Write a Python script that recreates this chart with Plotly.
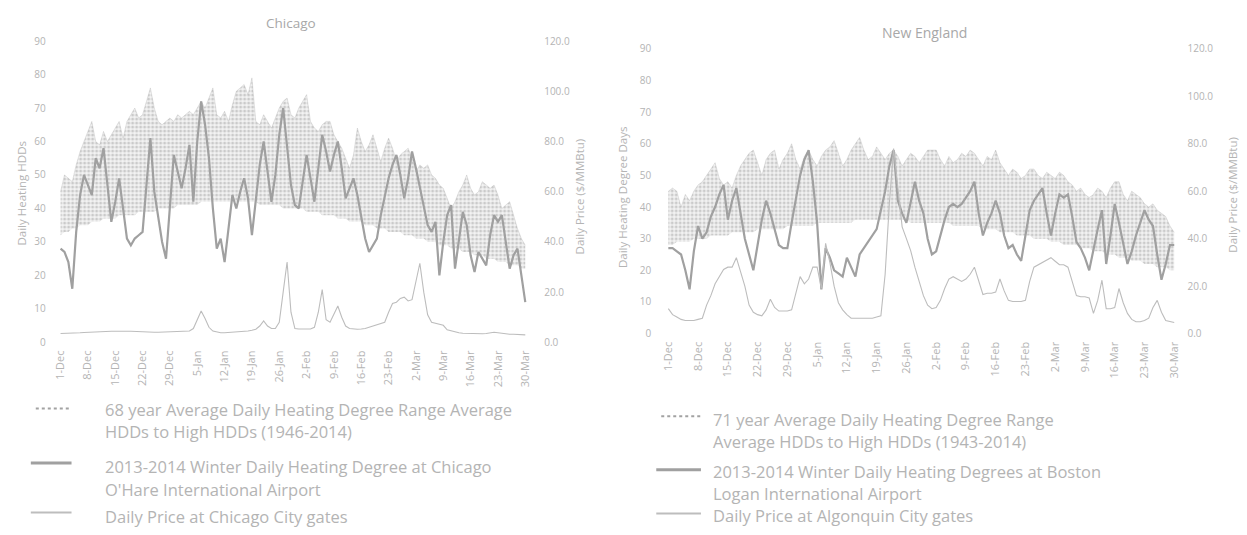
import pandas as pd
import plotly.graph_objects as go

# Winter heating season, one value per day (1 Dec 2013 - 30 Mar 2014)
days = pd.date_range("2013-12-01", "2014-03-30", freq="D")

# ---- Chicago -------------------------------------------------------------
chi_avg_hdd = [32, 33, 33, 34, 34, 35, 35, 35, 36, 36, 36,
               37, 37, 37, 37, 38, 38, 38, 38, 38, 39,
               39, 39, 39, 39, 40, 40, 40, 40, 40, 41,
               41, 41, 41, 41, 41, 42, 42, 42, 42, 42,
               42, 42, 42, 42, 42, 42, 42, 42, 42, 42,
               41, 41, 41, 41, 41, 41, 40, 40, 40, 40,
               40, 40, 39, 39, 39, 39, 38, 38, 38, 38,
               37, 37, 37, 36, 36, 36, 36, 35, 35, 35,
               34, 34, 34, 33, 33, 33, 33, 32, 32, 32,
               31, 31, 31, 30, 30, 30, 29, 29, 29, 28,
               28, 28, 27, 27, 27, 26, 26, 26, 25, 25,
               25, 24, 24, 24, 23, 23, 23, 22, 22]
chi_high_hdd = [45, 50, 49, 48, 53, 57, 60, 63, 66, 60, 59,
                63, 60, 62, 64, 66, 61, 66, 68, 70, 67,
                68, 72, 76, 70, 66, 65, 66, 67, 66, 68,
                67, 68, 69, 68, 70, 72, 70, 73, 76, 68,
                67, 69, 66, 71, 75, 76, 77, 74, 79, 66,
                65, 68, 66, 64, 67, 70, 72, 73, 68, 67,
                70, 72, 74, 66, 64, 63, 65, 66, 66, 62,
                60, 58, 55, 52, 56, 64, 60, 57, 59, 62,
                58, 54, 58, 61, 58, 54, 56, 57, 58, 55,
                51, 53, 52, 53, 50, 49, 47, 46, 43, 40,
                42, 45, 47, 50, 46, 44, 45, 48, 47, 46,
                47, 44, 40, 41, 42, 38, 34, 31, 29]
chi_hdd_2014 = [28, 27, 24, 16, 33, 44, 50, 47, 44, 55, 52,
                58, 46, 36, 42, 49, 40, 31, 29, 31, 32,
                33, 47, 61, 45, 38, 30, 25, 42, 56, 51,
                46, 52, 59, 42, 60, 72, 65, 55, 40, 28,
                31, 24, 35, 44, 40, 45, 49, 43, 32, 42,
                53, 60, 51, 42, 50, 62, 70, 59, 47, 41,
                40, 48, 56, 49, 42, 52, 62, 57, 51, 56,
                60, 52, 43, 46, 49, 44, 37, 31, 27, 29,
                31, 38, 44, 49, 53, 56, 50, 43, 49, 57,
                52, 46, 40, 35, 33, 36, 20, 30, 38, 41,
                22, 30, 39, 35, 26, 21, 27, 25, 23, 32,
                38, 36, 38, 30, 22, 26, 28, 20, 12]
chi_price = [3.5, 3.5, 3.6, 3.7, 3.8, 3.8, 3.9, 4.0, 4.0, 4.1, 4.2,
             4.3, 4.3, 4.4, 4.4, 4.5, 4.5, 4.4, 4.4, 4.3, 4.3,
             4.2, 4.2, 4.1, 4.0, 4.0, 4.1, 4.2, 4.2, 4.3, 4.3,
             4.4, 4.4, 4.5, 5.5, 9.0, 12.5, 9.5, 6.0, 4.5, 4.0,
             3.8, 3.8, 3.9, 4.0, 4.1, 4.2, 4.3, 4.5, 4.8, 5.2,
             6.5, 8.5, 6.5, 5.5, 5.5, 8.0, 20.0, 32.0, 12.0, 5.5,
             5.3, 5.2, 5.2, 5.3, 6.0, 12.0, 21.0, 9.0, 8.0, 11.0,
             14.5, 10.0, 6.5, 5.5, 5.2, 5.2, 5.3, 5.5, 6.0, 6.5,
             7.0, 7.5, 8.0, 12.0, 15.5, 16.0, 17.5, 18.0, 16.5, 17.0,
             24.0, 31.5, 20.0, 11.0, 8.0, 7.5, 7.0, 6.8, 5.0, 4.5,
             4.2, 3.8, 3.6, 3.5, 3.5, 3.4, 3.4, 3.4, 3.5, 3.7,
             4.0, 3.8, 3.5, 3.3, 3.2, 3.2, 3.1, 3.0, 3.0]

# ---- New England ---------------------------------------------------------
ne_avg_hdd = [28, 28, 29, 29, 29, 29, 30, 30, 30, 30, 31,
              31, 31, 31, 31, 32, 32, 32, 32, 32, 32,
              33, 33, 33, 33, 33, 33, 33, 34, 34, 34,
              34, 34, 34, 34, 35, 35, 35, 35, 35, 35,
              35, 35, 35, 36, 36, 36, 36, 36, 36, 36,
              36, 36, 36, 36, 36, 36, 35, 35, 35, 35,
              35, 35, 35, 35, 35, 35, 34, 34, 34, 34,
              34, 34, 34, 33, 33, 33, 33, 32, 32, 32,
              32, 31, 31, 31, 31, 30, 30, 30, 30, 29,
              29, 29, 28, 28, 28, 28, 27, 27, 27, 26,
              26, 26, 25, 25, 25, 24, 24, 24, 23, 23,
              23, 22, 22, 22, 21, 21, 21, 20, 20]
ne_high_hdd = [45, 46, 45, 40, 44, 42, 45, 47, 48, 50, 52,
               54, 49, 47, 48, 46, 50, 53, 55, 57, 58,
               54, 50, 55, 57, 58, 52, 55, 57, 60, 55,
               52, 56, 58, 55, 53, 56, 58, 59, 61, 57,
               53, 55, 58, 60, 62, 58, 55, 56, 59, 57,
               55, 57, 58, 56, 53, 55, 57, 56, 54, 56,
               58, 58, 58, 55, 53, 56, 54, 55, 57, 56,
               58, 57, 55, 53, 56, 55, 58, 54, 52, 50,
               52, 51, 49, 50, 52, 52, 50, 49, 51, 50,
               49, 51, 50, 48, 47, 45, 46, 44, 43, 44,
               46, 45, 43, 46, 48, 48, 44, 42, 45, 44,
               43, 41, 40, 41, 39, 38, 37, 34, 32]
ne_hdd_2014 = [27, 27, 26, 25, 20, 14, 26, 34, 30, 32, 37,
               40, 44, 47, 36, 42, 46, 38, 30, 25, 20,
               28, 36, 42, 38, 33, 28, 27, 27, 35, 43,
               50, 55, 58, 48, 35, 14, 27, 24, 20, 19,
               18, 24, 21, 18, 25, 27, 29, 31, 33, 39,
               45, 53, 58, 42, 38, 35, 42, 48, 42, 38,
               30, 25, 26, 31, 36, 40, 41, 40, 41, 43,
               45, 48, 38, 31, 35, 38, 42, 38, 31, 27,
               28, 25, 23, 31, 39, 42, 44, 46, 38, 31,
               38, 44, 43, 44, 37, 29, 27, 24, 20, 27,
               33, 39, 22, 31, 41, 35, 28, 22, 26, 31,
               35, 39, 36, 34, 25, 17, 22, 28, 28]
ne_price = [10.5, 8.0, 7.0, 6.0, 5.5, 5.5, 5.5, 6.0, 6.5, 12.0, 16.0,
            21.0, 24.0, 27.0, 28.0, 28.0, 32.0, 26.0, 20.0, 12.0, 9.0,
            8.0, 7.5, 10.0, 14.5, 11.0, 9.5, 9.5, 9.5, 10.0, 17.0,
            24.0, 21.0, 23.0, 28.0, 28.0, 19.0, 38.0, 30.0, 20.0, 13.0,
            10.0, 8.0, 6.5, 6.5, 6.5, 6.5, 6.5, 6.5, 7.0, 7.5,
            25.0, 55.0, 78.0, 60.0, 45.0, 40.0, 35.0, 28.0, 22.0, 16.0,
            12.0, 10.5, 11.0, 14.0, 19.0, 23.0, 24.0, 23.0, 22.0, 23.0,
            25.0, 28.0, 22.0, 16.5, 17.0, 17.0, 17.5, 23.0, 18.0, 14.0,
            13.5, 13.5, 13.5, 14.0, 22.0, 28.0, 29.0, 30.0, 31.0, 32.0,
            30.5, 29.0, 29.0, 28.0, 22.0, 16.0, 15.5, 15.5, 15.0, 8.5,
            14.0, 22.5, 10.5, 10.5, 11.0, 19.0, 13.0, 8.5, 6.0, 5.0,
            5.0, 5.5, 6.5, 11.0, 14.0, 9.0, 5.5, 5.0, 4.7]

# Axis tick settings
hdd_ticks = list(range(0, 91, 10))
price_ticks = list(range(0, 121, 20))

W, H = 1247, 535
FONT = "Open Sans, Lato, sans-serif"
TXT = "#b4b4b4"
BAND_COL = "#a2a2a2"
HDD_COL = "#a0a0a0"
PRICE_COL = "#bdbdbd"


def fx(px):
    return px / W


def fy(px):
    return 1 - px / H


fig = go.Figure()


def add_panel(avg, high, hdd, price, xa, ya, ya2):
    fig.add_trace(go.Scatter(x=days, y=avg, xaxis=xa, yaxis=ya, mode="lines",
                             line=dict(width=0, color="rgba(0,0,0,0)"),
                             showlegend=False, hoverinfo="skip"))
    fig.add_trace(go.Scatter(x=days, y=high, xaxis=xa, yaxis=ya, mode="lines",
                             line=dict(width=0.6, color="rgba(160,160,160,0.45)"),
                             fill="tonexty", fillcolor="rgba(255,255,255,0)",
                             fillpattern=dict(shape=".", fgcolor=BAND_COL,
                                              bgcolor="rgba(232,232,232,0.55)",
                                              size=4, solidity=0.45),
                             showlegend=False))
    fig.add_trace(go.Scatter(x=days, y=hdd, xaxis=xa, yaxis=ya, mode="lines",
                             line=dict(width=2.2, color=HDD_COL),
                             showlegend=False))
    fig.add_trace(go.Scatter(x=days, y=price, xaxis=xa, yaxis=ya2, mode="lines",
                             line=dict(width=1.1, color=PRICE_COL),
                             showlegend=False))


add_panel(chi_avg_hdd, chi_high_hdd, chi_hdd_2014, chi_price, "x", "y", "y2")
add_panel(ne_avg_hdd, ne_high_hdd, ne_hdd_2014, ne_price, "x2", "y3", "y4")

x_range = ["2013-11-30 12:00", "2014-03-31 00:00"]
xcommon = dict(type="date", range=x_range, tick0="2013-12-01",
               dtick=7 * 86400000, tickformat="%-d-%b", tickangle=-90,
               tickfont=dict(family=FONT, size=11, color=TXT),
               showgrid=False, zeroline=False, showline=False, ticks="",
               ticklabelstandoff=5)
ycommon = dict(range=[0, 90], tickvals=hdd_ticks,
               tickfont=dict(family=FONT, size=10, color=TXT),
               showgrid=False, zeroline=False, showline=False, ticks="")
y2common = dict(range=[0, 120], tickvals=price_ticks, tickformat=".1f",
                side="right",
                tickfont=dict(family=FONT, size=10, color=TXT),
                showgrid=False, zeroline=False, showline=False, ticks="")

fig.update_layout(
    width=W, height=H,
    margin=dict(l=0, r=0, t=0, b=0),
    paper_bgcolor="white", plot_bgcolor="white",
    showlegend=False,
    font=dict(family=FONT, color=TXT),
    xaxis=dict(domain=[fx(53), fx(527)], anchor="y", **xcommon),
    yaxis=dict(domain=[fy(344), fy(34)], anchor="x",
               ticklabelstandoff=12, **ycommon),
    yaxis2=dict(overlaying="y", anchor="x", ticklabelstandoff=14, **y2common),
    xaxis2=dict(domain=[fx(665), fx(1181)], anchor="y3", **xcommon),
    yaxis3=dict(domain=[fy(335), fy(42)], anchor="x2",
                ticklabelstandoff=14, **ycommon),
    yaxis4=dict(overlaying="y3", anchor="x2", ticklabelstandoff=8, **y2common),
)

ann = []


def text(x, y, s, size, angle=0, anchor="center", color=TXT):
    ann.append(dict(x=fx(x), y=fy(y), xref="paper", yref="paper", text=s,
                    showarrow=False, textangle=angle, xanchor=anchor,
                    yanchor="middle", borderpad=0,
                    font=dict(family=FONT, size=size, color=color)))


# Panel titles
text(287, 15, "Chicago", 13.5, color="#a8a8a8")
text(925, 25, "New England", 14, color="#a8a8a8")

# Axis titles
text(16, 190, "Daily Heating HDDs", 11.5, angle=-90)
text(578, 194, "Daily Price ($/MMBtu)", 11.5, angle=-90)
text(621, 195, "Daily Heating Degree Days", 11.5, angle=-90)
text(1236, 192, "Daily Price ($/MMBtu)", 11.5, angle=-90)

# Legend text
LEG = 16.5
text(99, 413, "68 year Average Daily Heating Degree Range Average", LEG, anchor="left")
text(99, 436, "HDDs to High HDDs (1946-2014)", LEG, anchor="left")
text(99, 472, "2013-2014 Winter Daily Heating Degree at Chicago", LEG, anchor="left")
text(99, 495, "O'Hare International Airport", LEG, anchor="left")
text(99, 523, "Daily Price at Chicago City gates", LEG, anchor="left")

text(711, 423, "71 year Average Daily Heating Degree Range", LEG, anchor="left")
text(711, 446, "Average HDDs to High HDDs (1943-2014)", LEG, anchor="left")
text(711, 477, "2013-2014 Winter Daily Heating Degrees at Boston", LEG, anchor="left")
text(711, 499, "Logan International Airport", LEG, anchor="left")
text(711, 522, "Daily Price at Algonquin City gates", LEG, anchor="left")

fig.update_layout(annotations=ann)

# Legend keys
shapes = []


def key(x0, x1, y, color, width, dash="solid"):
    shapes.append(dict(type="line", xref="paper", yref="paper",
                       x0=fx(x0), x1=fx(x1), y0=fy(y), y1=fy(y),
                       line=dict(color=color, width=width, dash=dash)))


key(30, 66, 412, BAND_COL, 2, "dot")
key(25, 66, 468, HDD_COL, 3)
key(25, 66, 519, PRICE_COL, 2)
key(660, 700, 420, BAND_COL, 2, "dot")
key(655, 700, 475, HDD_COL, 3)
key(655, 700, 520, PRICE_COL, 2)
fig.update_layout(shapes=shapes)

fig.write_html("out.html")
